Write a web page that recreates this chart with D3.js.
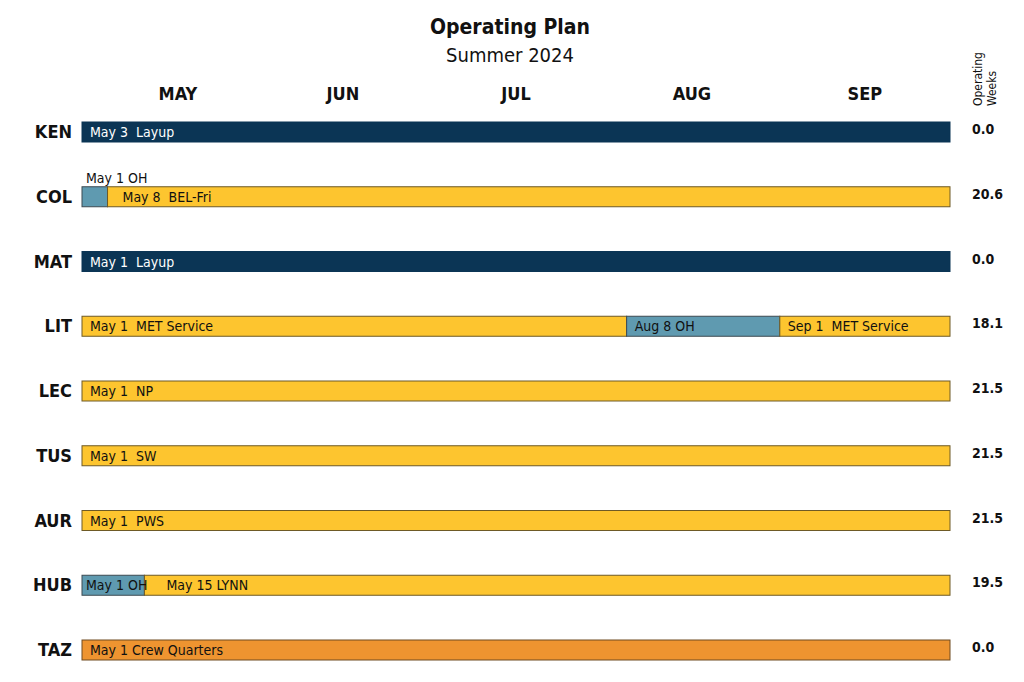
<!DOCTYPE html>
<html>
<head>
<meta charset="utf-8">
<script src="https://cdn.jsdelivr.net/npm/d3@7"></script>
<style>
  body { margin: 0; background: #fff; }
  text { font-family: "Liberation Sans Narrow", "DejaVu Sans Condensed", "Roboto", sans-serif; fill: #111; white-space: pre; }
</style>
</head>
<body>
<div id="chart"></div>
<script>
const WIDTH = 1024, HEIGHT = 682;

// rows, top to bottom
const vessels = ["KEN", "COL", "MAT", "LIT", "LEC", "TUS", "AUR", "HUB", "TAZ"];
const operatingWeeks = ["0.0", "20.6", "0.0", "18.1", "21.5", "21.5", "21.5", "19.5", "0.0"];
const months = ["MAY", "JUN", "JUL", "AUG", "SEP"];

// segments: vessel, start, end, kind, label
const segVessel = ["KEN", "COL", "COL", "MAT", "LIT", "LIT", "LIT", "LEC", "TUS", "AUR", "HUB", "HUB", "TAZ"];
const segStart = ["2024-05-01", "2024-05-01", "2024-05-05T12:00", "2024-05-01", "2024-05-01", "2024-08-05", "2024-09-01",
  "2024-05-01", "2024-05-01", "2024-05-01", "2024-05-01", "2024-05-12", "2024-05-01"];
const segEnd = ["2024-10-01", "2024-05-05T12:00", "2024-10-01", "2024-10-01", "2024-08-05", "2024-09-01", "2024-10-01",
  "2024-10-01", "2024-10-01", "2024-10-01", "2024-05-12", "2024-10-01", "2024-10-01"];
const segKind = ["layup", "oh", "service", "layup", "service", "oh", "service", "service", "service", "service", "oh", "service", "quarters"];
const segLabel = ["May 3  Layup", "", "May 8  BEL-Fri", "May 1  Layup", "May 1  MET Service", "Aug 8 OH", "Sep 1  MET Service",
  "May 1  NP", "May 1  SW", "May 1  PWS", "May 1 OH", "May 15 LYNN", "May 1 Crew Quarters"];

const fills = { layup: "#0b3555", oh: "#5f9ab0", service: "#fdc52f", quarters: "#ee9430" };
const strokes = { layup: "#0b3555", oh: "#3c4a52", service: "#6e5a26", quarters: "#6e4a20" };
const textFill = { layup: "#fff", oh: "#111", service: "#111", quarters: "#111" };

const parse = d3.isoParse;
const segments = segVessel.map((v, i) => ({
  vessel: v, start: parse(segStart[i]), end: parse(segEnd[i]), kind: segKind[i], label: segLabel[i]
}));

const svg = d3.select("#chart").append("svg").attr("width", WIDTH).attr("height", HEIGHT);

const x = d3.scaleTime()
  .domain([parse("2024-05-01"), parse("2024-10-01")])
  .range([82, 950]);

const y = d3.scalePoint()
  .domain(vessels)
  .range([132, 650]);

const barH = 20;

// title
svg.append("text").attr("x", 510).attr("y", 34).attr("text-anchor", "middle")
  .attr("font-size", 21).attr("font-weight", "bold").text("Operating Plan");
svg.append("text").attr("x", 510).attr("y", 62).attr("text-anchor", "middle")
  .attr("font-size", 20).text("Summer 2024");

// month headers, centred on each month
const monthStarts = d3.timeMonth.range(parse("2024-05-01"), parse("2024-10-01"));
svg.append("g").selectAll("text")
  .data(monthStarts)
  .enter()
  .append("text")
  .attr("x", (d, i) => x(new Date((+d + +d3.timeMonth.offset(d, 1)) / 2)) + (i === 0 ? 8 : 0))
  .attr("y", 100)
  .attr("text-anchor", "middle")
  .attr("font-size", 18)
  .attr("font-weight", "bold")
  .text((d, i) => months[i]);

// weeks header
svg.append("text")
  .attr("transform", "translate(982,106) rotate(-90)")
  .attr("font-size", 12)
  .text("Operating");
svg.append("text")
  .attr("transform", "translate(996,106) rotate(-90)")
  .attr("font-size", 12)
  .text("Weeks");

// row labels
svg.append("g").selectAll("text")
  .data(vessels)
  .enter()
  .append("text")
  .attr("x", 72)
  .attr("y", d => y(d) + 6)
  .attr("text-anchor", "end")
  .attr("font-size", 18)
  .attr("font-weight", "bold")
  .text(d => d);

// bars
const g = svg.append("g");
g.selectAll("rect")
  .data(segments)
  .enter()
  .append("rect")
  .attr("x", d => x(d.start))
  .attr("y", d => y(d.vessel) - barH / 2)
  .attr("width", d => x(d.end) - x(d.start))
  .attr("height", barH)
  .attr("fill", d => fills[d.kind])
  .attr("stroke", d => strokes[d.kind])
  .attr("stroke-width", 1);

g.selectAll("text")
  .data(segments.filter(d => d.label))
  .enter()
  .append("text")
  .attr("x", d => x(d.start) + (d.vessel === "COL" ? 15 : d.kind === "oh" && d.vessel === "HUB" ? 4 : 8) + (d.vessel === "HUB" && d.kind === "service" ? 14 : 0))
  .attr("y", d => y(d.vessel) + 5)
  .attr("font-size", 14)
  .style("fill", d => textFill[d.kind])
  .text(d => d.label);

// COL overhaul note above bar
svg.append("text")
  .attr("x", x(parse("2024-05-01")) + 4)
  .attr("y", y("COL") - 14)
  .attr("font-size", 14)
  .text("May 1 OH");

// operating weeks
svg.append("g").selectAll("text")
  .data(vessels)
  .enter()
  .append("text")
  .attr("x", 972)
  .attr("y", (d, i) => y(d) + 2)
  .attr("font-size", 14)
  .attr("font-weight", "bold")
  .text((d, i) => operatingWeeks[i]);
</script>
</body>
</html>
